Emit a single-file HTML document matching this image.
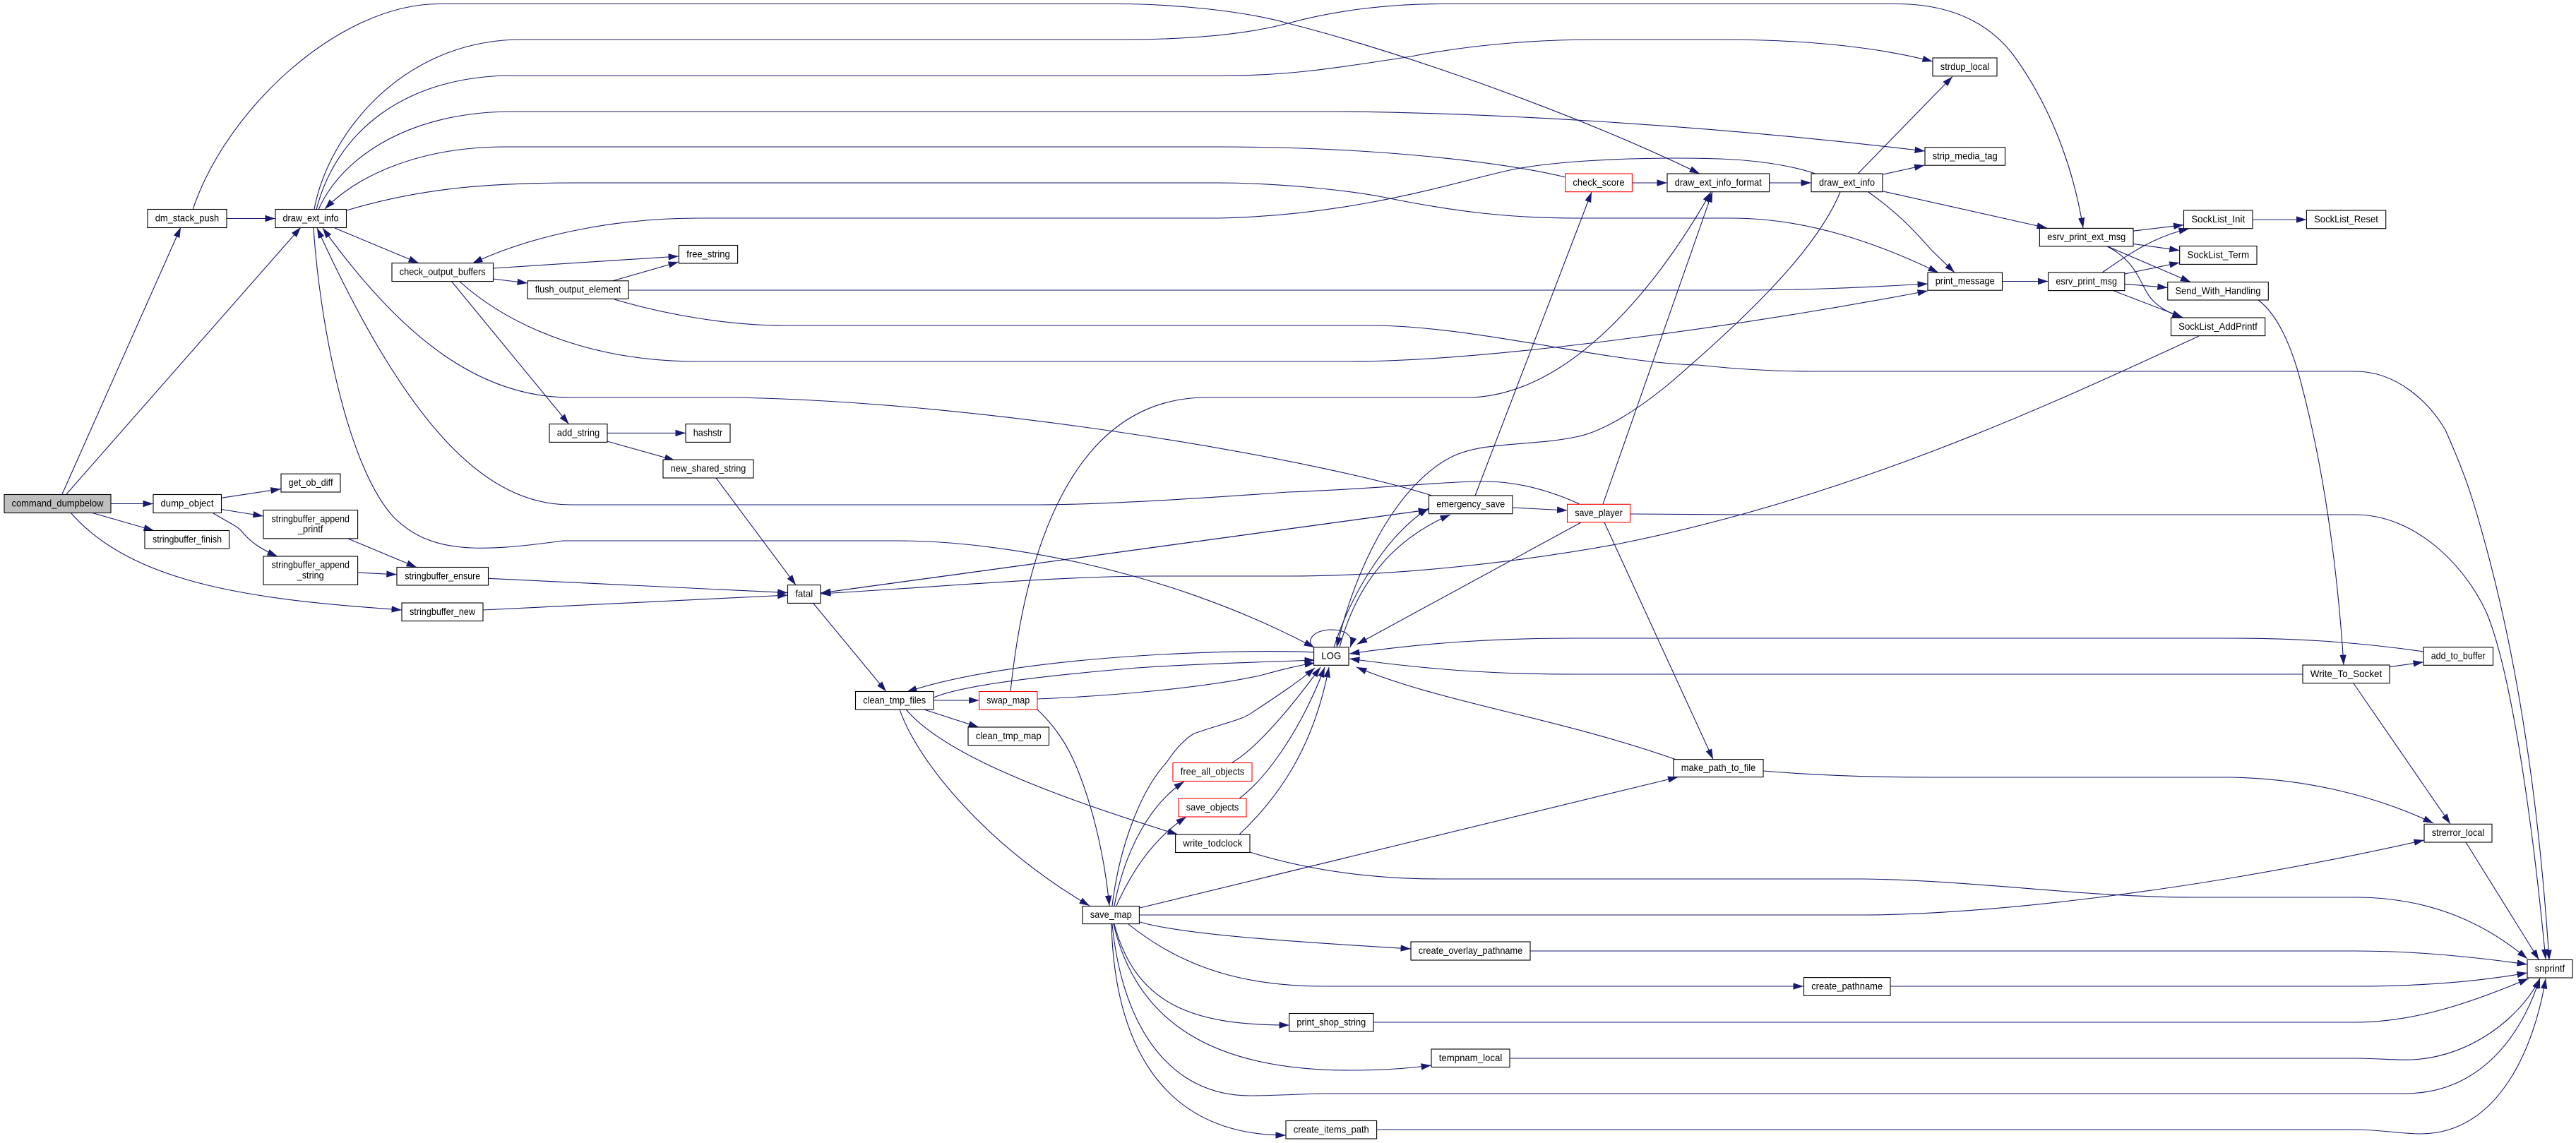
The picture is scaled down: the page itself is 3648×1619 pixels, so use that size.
<!DOCTYPE html>
<html>
<head>
<meta charset="utf-8">
<title>command_dumpbelow call graph</title>
<style>
html,body{margin:0;padding:0;background:#fff;}
svg{display:block;}
.e path{fill:none;stroke:#191970;stroke-width:1.1;marker-end:url(#a);}
.n rect{fill:#fff;stroke:#000;stroke-width:1.1;}
.n rect.r{stroke:#ff0000;}
.n rect.g{fill:#bfbfbf;}
text{font-family:"Liberation Sans",sans-serif;font-size:14px;fill:#000;text-anchor:middle;}
</style>
</head>
<body>
<svg xmlns="http://www.w3.org/2000/svg" width="3648" height="1619" viewBox="0 0 3648 1619">
<defs>
<marker id="a" markerUnits="userSpaceOnUse" markerWidth="16" markerHeight="11" refX="14.5" refY="5" orient="auto">
<path d="M0,0.3 L14.5,5 L0,9.7 Z" fill="#191970"/>
</marker>
</defs>
<rect width="3648" height="1619" fill="#fff"/>
<g class="e">
<path d="M88,700 L256,322"/>
<path d="M94,700 L426,322"/>
<path d="M157,713.5 L217,713.5"/>
<path d="M129,726 L218,751.5"/>
<path d="M100,726 C190,830 370,850 569,864"/>
<path d="M321,309.5 L390,309.5"/>
<path d="M273,297 C320,155 480,5.5 622,5.5 L1581,5.5 C1660,5.5 1760,15 1824,33 C2000,78 2240,165 2407,246"/>
<path d="M445,296 C465,190 570,56 739,56 L1590,56 C1680,56 1760,50 1824,33 C1900,12 1980,5.5 2039,5.5 L2685,5.5 C2760,5.5 2815,30 2852,79 C2900,145 2935,230 2950,323"/>
<path d="M448,297 C475,190 570,107 727,107 L1738,107 C1830,107 1900,95 1998,80 C2100,60 2200,56 2260,56 L2435,56 C2530,56 2640,62 2737,87"/>
<path d="M451,297 C480,230 570,158 727,158 L1900,158 C2100,160 2400,175 2726,214"/>
<path d="M2217,251 C2130,230 1950,208 1726,208 L715,208 C600,208 510,245 460,296"/>
<path d="M491,298 C600,265 700,259 814,259 L1726,259 C1800,259 1900,268 1958,279 C2060,300 2140,309 2231,309 L2452,309 C2560,309 2660,345 2745,386"/>
<path d="M2571,246 C2510,226 2440,224 2376,224 C2300,224 2200,228 2138,241 C2060,258 1920,305 1726,309 L988,309 C880,309 760,330 669,373"/>
<path d="M698,380 L961,363"/>
<path d="M867,398 L961,371"/>
<path d="M698,395 L747,401"/>
<path d="M890,411 L2464,411 C2560,411 2640,407 2730,402"/>
<path d="M870,424 C940,445 1030,461 1110,461 L1940,461 C2090,461 2280,515 2405,517 C2450,522 2510,526 2568,526 L3335,526 C3395,526 3440,570 3463,609 C3490,670 3500,700 3515,754 C3545,860 3590,1050 3610,1360"/>
<path d="M650,398 C730,470 850,512 988,512 L1911,512 C2100,512 2450,465 2730,412"/>
<path d="M639,398 L805.5,600.6"/>
<path d="M474,323 L593,372.6"/>
<path d="M444,322 C452,450 490,660 558,733 C610,785 680,782 797,766 L1273,766 C1400,766 1640,800 1861,917"/>
<path d="M2237,714 C2195,695 2150,682 2103,682 C2040,682 1960,692 1824,697 C1700,706 1560,715 1470,715 L808,715 C690,715 580,610 449,323"/>
<path d="M2028,702 C1880,655 1420,570 1040,563 L808,563 C680,563 570,480 457,323"/>
<path d="M2089,702 L2254,272"/>
<path d="M2142,719 L2219.5,723"/>
<path d="M2270,714 L2425,272"/>
<path d="M1431,979 C1450,800 1510,563 1709,563 L2086,563 C2230,555 2350,400 2423,272"/>
<path d="M2631,246 L2765,108.5"/>
<path d="M2667,247 L2725.5,234"/>
<path d="M2667,271 L2899,323"/>
<path d="M2646,272 C2685,300 2705,320 2736,355 L2768,386"/>
<path d="M2606,272 C2570,360 2460,460 2368,540 C2320,580 2270,612 2231,619 C2170,632 2100,625 2056,647 C1980,685 1920,800 1893,917"/>
<path d="M1889,917 C1910,850 1960,760 2023,720"/>
<path d="M1897,917 C1920,830 1970,765 2054,729"/>
<path d="M1861,917 C1848,908 1860,892 1885,892 C1905,892 1918,900 1912,917"/>
<path d="M2239,740 L1921.7,912.6"/>
<path d="M2272,740 L2426,1075.5"/>
<path d="M2308,728 L2464,729 L3335,729 C3420,729 3490,800 3521,867 C3560,960 3590,1200 3605,1359"/>
<path d="M2374,1076 C2200,1015 2040,995 1921,945"/>
<path d="M2497,1092 C2570,1098 2650,1101 2736,1101 L3160,1101 C3260,1103 3360,1125 3446,1166"/>
<path d="M3432,923 C3330,908 3240,904 3155,904 L2231,904 C2120,904 2020,910 1911,926"/>
<path d="M3261,955 L2231,955 C2110,955 2020,948 1911,933"/>
<path d="M3384,944.7 L3432,937.8"/>
<path d="M3333,968 L3470,1167"/>
<path d="M3198,425 C3225,445 3245,490 3258,540 C3290,660 3310,800 3319,942"/>
<path d="M3114,476 C2900,575 2620,705 2289,771 C2130,800 1960,816 1824,816 L1639,816 C1500,816 1350,830 1162,841"/>
<path d="M2023,722 L1162,840"/>
<path d="M1162,840 L2023,722"/>
<path d="M1014,677 L1127,828.6"/>
<path d="M859.6,613.4 L971,613.4"/>
<path d="M859.6,625 L955.6,652"/>
<path d="M691.5,819.3 L1115.6,839.6"/>
<path d="M684,864 L1115.6,843"/>
<path d="M313.5,705.3 L397.8,692.6"/>
<path d="M313.5,721.5 L372.8,731"/>
<path d="M302,727 C320,738 332,743 340,750 C352,765 365,776 393,788"/>
<path d="M493,763 L590,803.5"/>
<path d="M506.6,811 L561.8,813.8"/>
<path d="M1151.6,854.4 L1255,979.5"/>
<path d="M1322,992 L1386.6,992"/>
<path d="M1308.6,1005 L1386,1030"/>
<path d="M1322,988 C1350,976 1420,962 1610,946 C1700,940 1780,938 1862,935"/>
<path d="M1861,924 C1780,919 1450,925 1284,980"/>
<path d="M1469,990 C1570,986 1700,975 1784,957 C1810,950 1835,943 1862,939"/>
<path d="M1469,1005 C1490,1025 1510,1050 1526,1090 C1550,1150 1565,1220 1571,1283"/>
<path d="M1274,1005 C1300,1080 1400,1200 1543,1283"/>
<path d="M1283,1005 C1330,1060 1450,1115 1668,1182"/>
<path d="M1575,1283 C1585,1200 1615,1120 1652,1080 C1665,1060 1680,1045 1691,1039 C1730,1025 1760,1020 1775,1008 C1810,985 1840,965 1862,946"/>
<path d="M1578,1283 C1590,1220 1620,1145 1677,1107"/>
<path d="M1581,1283 C1600,1240 1630,1190 1680,1157"/>
<path d="M1745,1080 C1780,1060 1830,1000 1870,945"/>
<path d="M1755,1131 C1790,1105 1840,1040 1876,945"/>
<path d="M1755,1182 C1810,1130 1860,1060 1882,945"/>
<path d="M1770,1207 C1860,1235 1950,1245 2039,1245 L2638,1245 C2800,1247 2950,1271 3108,1271 L3335,1271 C3430,1271 3510,1300 3579,1358"/>
<path d="M1614,1286 L2376.5,1100.6"/>
<path d="M1614,1296 L2638,1296 C2800,1296 3100,1265 3433,1190"/>
<path d="M1614,1306 C1680,1325 1850,1335 1998,1344"/>
<path d="M1598,1309 C1680,1375 1770,1397 1876,1397 L2554,1397"/>
<path d="M1578,1309 C1610,1430 1700,1452 1826,1452"/>
<path d="M1577,1309 C1610,1450 1720,1516 1911,1516 C1950,1516 1990,1514 2027,1509"/>
<path d="M1575,1309 C1590,1460 1660,1552 1770,1552 C1810,1552 1850,1549 1876,1549 L3405,1549 C3510,1549 3570,1470 3597,1385"/>
<path d="M1574,1309 C1578,1470 1640,1608 1821,1608"/>
<path d="M2167,1347 L3335,1347 C3420,1347 3500,1355 3579,1366"/>
<path d="M2677,1397 L3335,1397 C3420,1397 3500,1392 3579,1378"/>
<path d="M1945,1448 L3335,1448 C3420,1448 3500,1420 3581,1386"/>
<path d="M2138,1499 L3335,1499 C3360,1499 3400,1502 3416,1501 C3500,1497 3570,1440 3597,1386"/>
<path d="M1950,1600 L3335,1600 C3370,1600 3400,1606 3428,1606 C3540,1606 3590,1480 3605,1386"/>
<path d="M3492,1193 L3595.6,1359.5"/>
<path d="M3021,327.2 L3092.5,318.6"/>
<path d="M3021,345.4 L3086.7,354.7"/>
<path d="M2984.3,348.9 L3102.4,399.5"/>
<path d="M2984,349 C3025,370 3030,400 3044,420 C3055,435 3075,445 3091,450"/>
<path d="M2977,386 C3015,360 3050,335 3100,324"/>
<path d="M3008.8,388 L3086.7,372"/>
<path d="M3008.8,402.3 L3069.8,407.4"/>
<path d="M2992.5,411.6 L3090.8,449.4"/>
<path d="M2835.5,398.5 L2900.6,398.5"/>
<path d="M3190,311 L3266.4,311"/>
<path d="M2311.4,259 L2361,259"/>
<path d="M2505.6,259 L2565,259"/>
</g>
<g class="n">
<rect class="g" x="6" y="700.5" width="151" height="26"/><text x="81.5" y="717.5" textLength="130" lengthAdjust="spacingAndGlyphs">command_dumpbelow</text>
<rect x="217" y="700.5" width="96.5" height="26"/><text x="265" y="717.5" textLength="75" lengthAdjust="spacingAndGlyphs">dump_object</text>
<rect x="205" y="751.5" width="119.5" height="25.5"/><text x="265" y="768.3" textLength="98" lengthAdjust="spacingAndGlyphs">stringbuffer_finish</text>
<rect x="398" y="671.2" width="84" height="25.8"/><text x="440" y="688" textLength="63" lengthAdjust="spacingAndGlyphs">get_ob_diff</text>
<rect x="373" y="722.5" width="133.6" height="40.3"/><text x="439.7" y="739.5" textLength="110.5" lengthAdjust="spacingAndGlyphs">stringbuffer_append</text><text x="439.7" y="754" textLength="35.5" lengthAdjust="spacingAndGlyphs">_printf</text>
<rect x="373" y="788" width="133.6" height="40.3"/><text x="439.7" y="804.5" textLength="110.5" lengthAdjust="spacingAndGlyphs">stringbuffer_append</text><text x="439.7" y="819.5" textLength="38" lengthAdjust="spacingAndGlyphs">_string</text>
<rect x="562" y="803.5" width="129.5" height="25.5"/><text x="626.7" y="820.3" textLength="107" lengthAdjust="spacingAndGlyphs">stringbuffer_ensure</text>
<rect x="569" y="854" width="115" height="25.6"/><text x="626.5" y="870.8" textLength="93" lengthAdjust="spacingAndGlyphs">stringbuffer_new</text>
<rect x="209" y="296.5" width="112" height="26"/><text x="265" y="313.5" textLength="90.5" lengthAdjust="spacingAndGlyphs">dm_stack_push</text>
<rect x="390" y="296.5" width="100.5" height="26"/><text x="440" y="313.5" textLength="79" lengthAdjust="spacingAndGlyphs">draw_ext_info</text>
<rect x="555" y="372.6" width="143.5" height="26"/><text x="626.7" y="389.5" textLength="122" lengthAdjust="spacingAndGlyphs">check_output_buffers</text>
<rect x="747" y="397.8" width="143" height="25.5"/><text x="818.5" y="414.5" textLength="121.5" lengthAdjust="spacingAndGlyphs">flush_output_element</text>
<rect x="778" y="600.6" width="82" height="25.8"/><text x="819" y="617.4" textLength="60.5" lengthAdjust="spacingAndGlyphs">add_string</text>
<rect x="961.4" y="347.5" width="83.2" height="25.5"/><text x="1003" y="364.3" textLength="61.5" lengthAdjust="spacingAndGlyphs">free_string</text>
<rect x="971" y="600.6" width="63" height="25.8"/><text x="1002.5" y="617.4" textLength="41.5" lengthAdjust="spacingAndGlyphs">hashstr</text>
<rect x="939" y="651.2" width="128" height="25.8"/><text x="1003" y="668" textLength="106.5" lengthAdjust="spacingAndGlyphs">new_shared_string</text>
<rect x="1115.5" y="828.6" width="46.5" height="25.8"/><text x="1138.7" y="845.4" textLength="25" lengthAdjust="spacingAndGlyphs">fatal</text>
<rect x="1211.5" y="979.5" width="110.5" height="25.5"/><text x="1266.7" y="996.3" textLength="89" lengthAdjust="spacingAndGlyphs">clean_tmp_files</text>
<rect class="r" x="1386.6" y="979.5" width="82.4" height="25.5"/><text x="1427.8" y="996.3" textLength="61" lengthAdjust="spacingAndGlyphs">swap_map</text>
<rect x="1371" y="1030" width="114.5" height="25.6"/><text x="1428.2" y="1046.8" textLength="93" lengthAdjust="spacingAndGlyphs">clean_tmp_map</text>
<rect x="1533" y="1283.5" width="80.4" height="25.1"/><text x="1573.2" y="1300" textLength="59" lengthAdjust="spacingAndGlyphs">save_map</text>
<rect class="r" x="1661" y="1080.5" width="112" height="26"/><text x="1717" y="1097.3" textLength="90.5" lengthAdjust="spacingAndGlyphs">free_all_objects</text>
<rect class="r" x="1669" y="1131" width="96" height="26"/><text x="1717" y="1148" textLength="74.5" lengthAdjust="spacingAndGlyphs">save_objects</text>
<rect x="1664.6" y="1182" width="105.4" height="25.5"/><text x="1717.3" y="1198.8" textLength="84" lengthAdjust="spacingAndGlyphs">write_todclock</text>
<rect x="1860.6" y="916.8" width="49.4" height="25.5"/><text x="1885.3" y="933.6" textLength="28" lengthAdjust="spacingAndGlyphs">LOG</text>
<rect x="2023.5" y="701.9" width="118.5" height="25.8"/><text x="2082.7" y="718.7" textLength="97" lengthAdjust="spacingAndGlyphs">emergency_save</text>
<rect class="r" x="2219.5" y="714.3" width="89" height="25.5"/><text x="2264" y="731" textLength="67.5" lengthAdjust="spacingAndGlyphs">save_player</text>
<rect class="r" x="2216.6" y="246" width="94.8" height="25.7"/><text x="2264" y="262.8" textLength="73.3" lengthAdjust="spacingAndGlyphs">check_score</text>
<rect x="2361" y="246" width="144.6" height="25.7"/><text x="2433.3" y="262.8" textLength="123" lengthAdjust="spacingAndGlyphs">draw_ext_info_format</text>
<rect x="2565" y="246" width="101" height="25.7"/><text x="2615.5" y="262.8" textLength="79" lengthAdjust="spacingAndGlyphs">draw_ext_info</text>
<rect x="2737" y="82" width="91" height="25.8"/><text x="2782.5" y="98.8" textLength="69.5" lengthAdjust="spacingAndGlyphs">strdup_local</text>
<rect x="2726" y="208.7" width="113.5" height="25.5"/><text x="2782.7" y="225.5" textLength="92" lengthAdjust="spacingAndGlyphs">strip_media_tag</text>
<rect x="2730" y="386" width="105.5" height="25.2"/><text x="2782.7" y="402.6" textLength="84" lengthAdjust="spacingAndGlyphs">print_message</text>
<rect x="2888.4" y="323.4" width="132.6" height="25.5"/><text x="2954.7" y="340.2" textLength="111" lengthAdjust="spacingAndGlyphs">esrv_print_ext_msg</text>
<rect x="2900.6" y="386" width="108.2" height="25.6"/><text x="2954.7" y="402.8" textLength="86.7" lengthAdjust="spacingAndGlyphs">esrv_print_msg</text>
<rect x="3092.5" y="298" width="97.5" height="25.7"/><text x="3141.2" y="314.8" textLength="76" lengthAdjust="spacingAndGlyphs">SockList_Init</text>
<rect x="3266.4" y="298" width="112.3" height="25.7"/><text x="3322.5" y="314.8" textLength="90.8" lengthAdjust="spacingAndGlyphs">SockList_Reset</text>
<rect x="3086.7" y="348.5" width="109.3" height="25.9"/><text x="3141.3" y="365.3" textLength="87.8" lengthAdjust="spacingAndGlyphs">SockList_Term</text>
<rect x="3069.8" y="399.5" width="142.5" height="25.5"/><text x="3141" y="416.3" textLength="121" lengthAdjust="spacingAndGlyphs">Send_With_Handling</text>
<rect x="3074.5" y="450" width="133.2" height="25.6"/><text x="3141" y="466.8" textLength="111.7" lengthAdjust="spacingAndGlyphs">SockList_AddPrintf</text>
<rect x="2370" y="1075.6" width="127" height="25"/><text x="2433.5" y="1092" textLength="105.5" lengthAdjust="spacingAndGlyphs">make_path_to_file</text>
<rect x="3432" y="916.8" width="98.5" height="25.5"/><text x="3481.2" y="933.6" textLength="77" lengthAdjust="spacingAndGlyphs">add_to_buffer</text>
<rect x="3261" y="942" width="123" height="25.7"/><text x="3322.5" y="958.8" textLength="101.5" lengthAdjust="spacingAndGlyphs">Write_To_Socket</text>
<rect x="3433" y="1167.3" width="96" height="25.7"/><text x="3481" y="1184" textLength="74.5" lengthAdjust="spacingAndGlyphs">strerror_local</text>
<rect x="3579" y="1359.5" width="64" height="25.5"/><text x="3611" y="1376.3" textLength="42.5" lengthAdjust="spacingAndGlyphs">snprintf</text>
<rect x="1998" y="1334" width="169" height="26"/><text x="2082.5" y="1351" textLength="147.5" lengthAdjust="spacingAndGlyphs">create_overlay_pathname</text>
<rect x="2554.5" y="1384.6" width="122.5" height="25.8"/><text x="2615.7" y="1401.4" textLength="101" lengthAdjust="spacingAndGlyphs">create_pathname</text>
<rect x="1825.7" y="1435.5" width="119.3" height="25.5"/><text x="1885.3" y="1452.3" textLength="97.8" lengthAdjust="spacingAndGlyphs">print_shop_string</text>
<rect x="2027" y="1486" width="111" height="25.5"/><text x="2082.5" y="1502.8" textLength="89.5" lengthAdjust="spacingAndGlyphs">tempnam_local</text>
<rect x="1821" y="1587.5" width="128.6" height="25.5"/><text x="1885.3" y="1604.3" textLength="107" lengthAdjust="spacingAndGlyphs">create_items_path</text>
</g>
</svg>
</body>
</html>
